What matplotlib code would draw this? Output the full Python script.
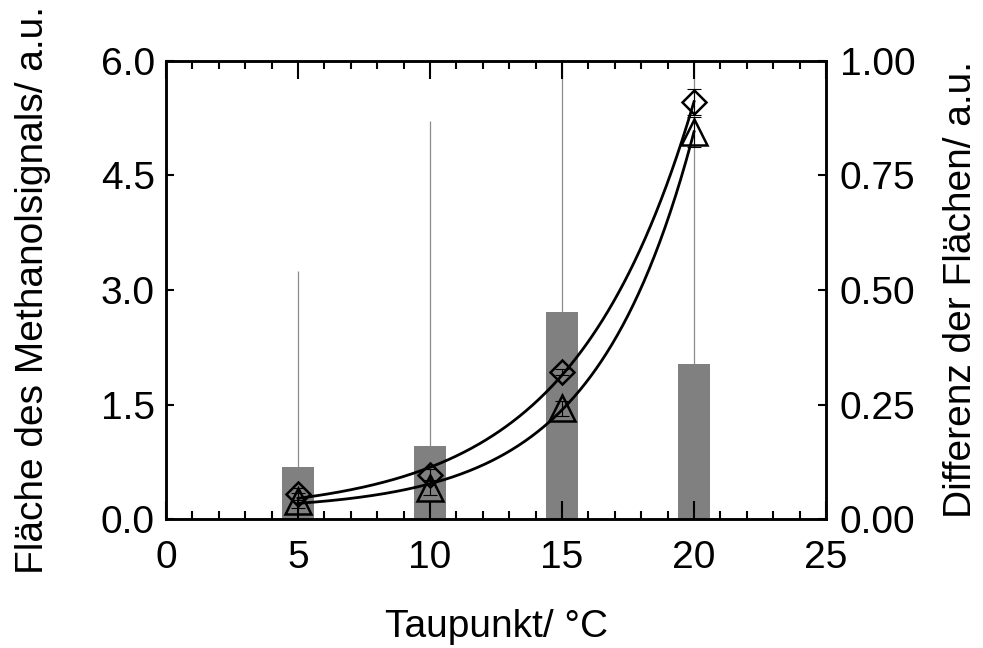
import numpy as np
import matplotlib
matplotlib.use("Agg")
import matplotlib.pyplot as plt
from matplotlib.ticker import MultipleLocator

plt.rcParams["font.family"] = ["Liberation Sans", "DejaVu Sans"]

# dew points / degC
taupunkt = [5, 10, 15, 20]

# methanol signal areas (left axis)
flaeche_a = [0.33, 0.58, 1.93, 5.46]
flaeche_a_err = [0.08, 0.08, 0.04, 0.17]
flaeche_b = [0.24, 0.41, 1.45, 5.07]
flaeche_b_err = [0.10, 0.10, 0.10, 0.20]

# difference of the areas (right axis), error upward only
differenz = [0.113, 0.159, 0.452, 0.338]
differenz_err = [0.428, 0.710, 0.650, 0.750]


def exp_fit(x, y):
    """y = y0 + A*exp(b*x): scan b, linear least squares for y0 and A."""
    x = np.asarray(x, float)
    y = np.asarray(y, float)
    best = None
    for b in np.linspace(0.02, 0.6, 2000):
        M = np.column_stack([np.ones_like(x), np.exp(b * x)])
        coef, *_ = np.linalg.lstsq(M, y, rcond=None)
        res = np.sum((M @ coef - y) ** 2)
        if best is None or res < best[0]:
            best = (res, coef[0], coef[1], b)
    _, y0, A, b = best
    return lambda t: y0 + A * np.exp(b * t)


fig = plt.figure(figsize=(9.83, 6.48), dpi=100)
ax = fig.add_axes([0.1689, 0.199, 0.6714, 0.707])
ax2 = ax.twinx()

# bars sit behind the markers
ax.set_zorder(2)
ax.patch.set_visible(False)

ax2.bar(taupunkt, differenz, width=1.2, color="#808080", zorder=1)
ax2.errorbar(taupunkt, differenz, yerr=[np.zeros(4), differenz_err],
             fmt="none", ecolor="#8c8c8c", elinewidth=0.9, capsize=0, zorder=2)

xs = np.linspace(5, 20, 300)
for y, yerr, mk, ms in [(flaeche_a, flaeche_a_err, "D", 12.5),
                        (flaeche_b, flaeche_b_err, "^", 19)]:
    f = exp_fit(taupunkt, y)
    ax.plot(xs, f(xs), color="black", lw=2.0)
    ax.errorbar(taupunkt, y, yerr=yerr, fmt="none", ecolor="black",
                elinewidth=0.8, capsize=5, capthick=0.8)
    ax.plot(taupunkt, y, ls="none", marker=mk, ms=ms, mfc="none",
            mec="black", mew=1.8)

ax.set_xlim(0, 25)
ax.set_ylim(0, 6)
ax2.set_ylim(0, 1)

ax.xaxis.set_major_locator(MultipleLocator(5))
ax.xaxis.set_minor_locator(MultipleLocator(1))
ax.set_yticks([0, 1.5, 3.0, 4.5, 6.0])
ax.set_yticklabels(["0.0", "1.5", "3.0", "4.5", "6.0"])
ax2.set_yticks([0, 0.25, 0.5, 0.75, 1.0])
ax2.set_yticklabels(["0.00", "0.25", "0.50", "0.75", "1.00"])

ax.tick_params(axis="x", which="major", direction="in", top=True,
               length=13, width=1.5, labelsize=28, pad=15)
ax.tick_params(axis="x", which="minor", direction="in", top=True,
               length=6, width=1.5)
ax.tick_params(axis="y", which="major", direction="in", length=6,
               width=1.5, labelsize=28, pad=8)
ax2.tick_params(axis="y", which="major", direction="in", length=6,
                width=1.5, labelsize=28, pad=10)

for a in (ax, ax2):
    for s in a.spines.values():
        s.set_linewidth(1.8)

ax.set_xlabel("Taupunkt/ °C", fontsize=28, labelpad=24)
ax.set_ylabel("Fläche des Methanolsignals/ a.u.", fontsize=28, labelpad=36)
ax2.set_ylabel("Differenz der Flächen/ a.u.", fontsize=28, labelpad=20)

fig.savefig("out.png", dpi=100)
